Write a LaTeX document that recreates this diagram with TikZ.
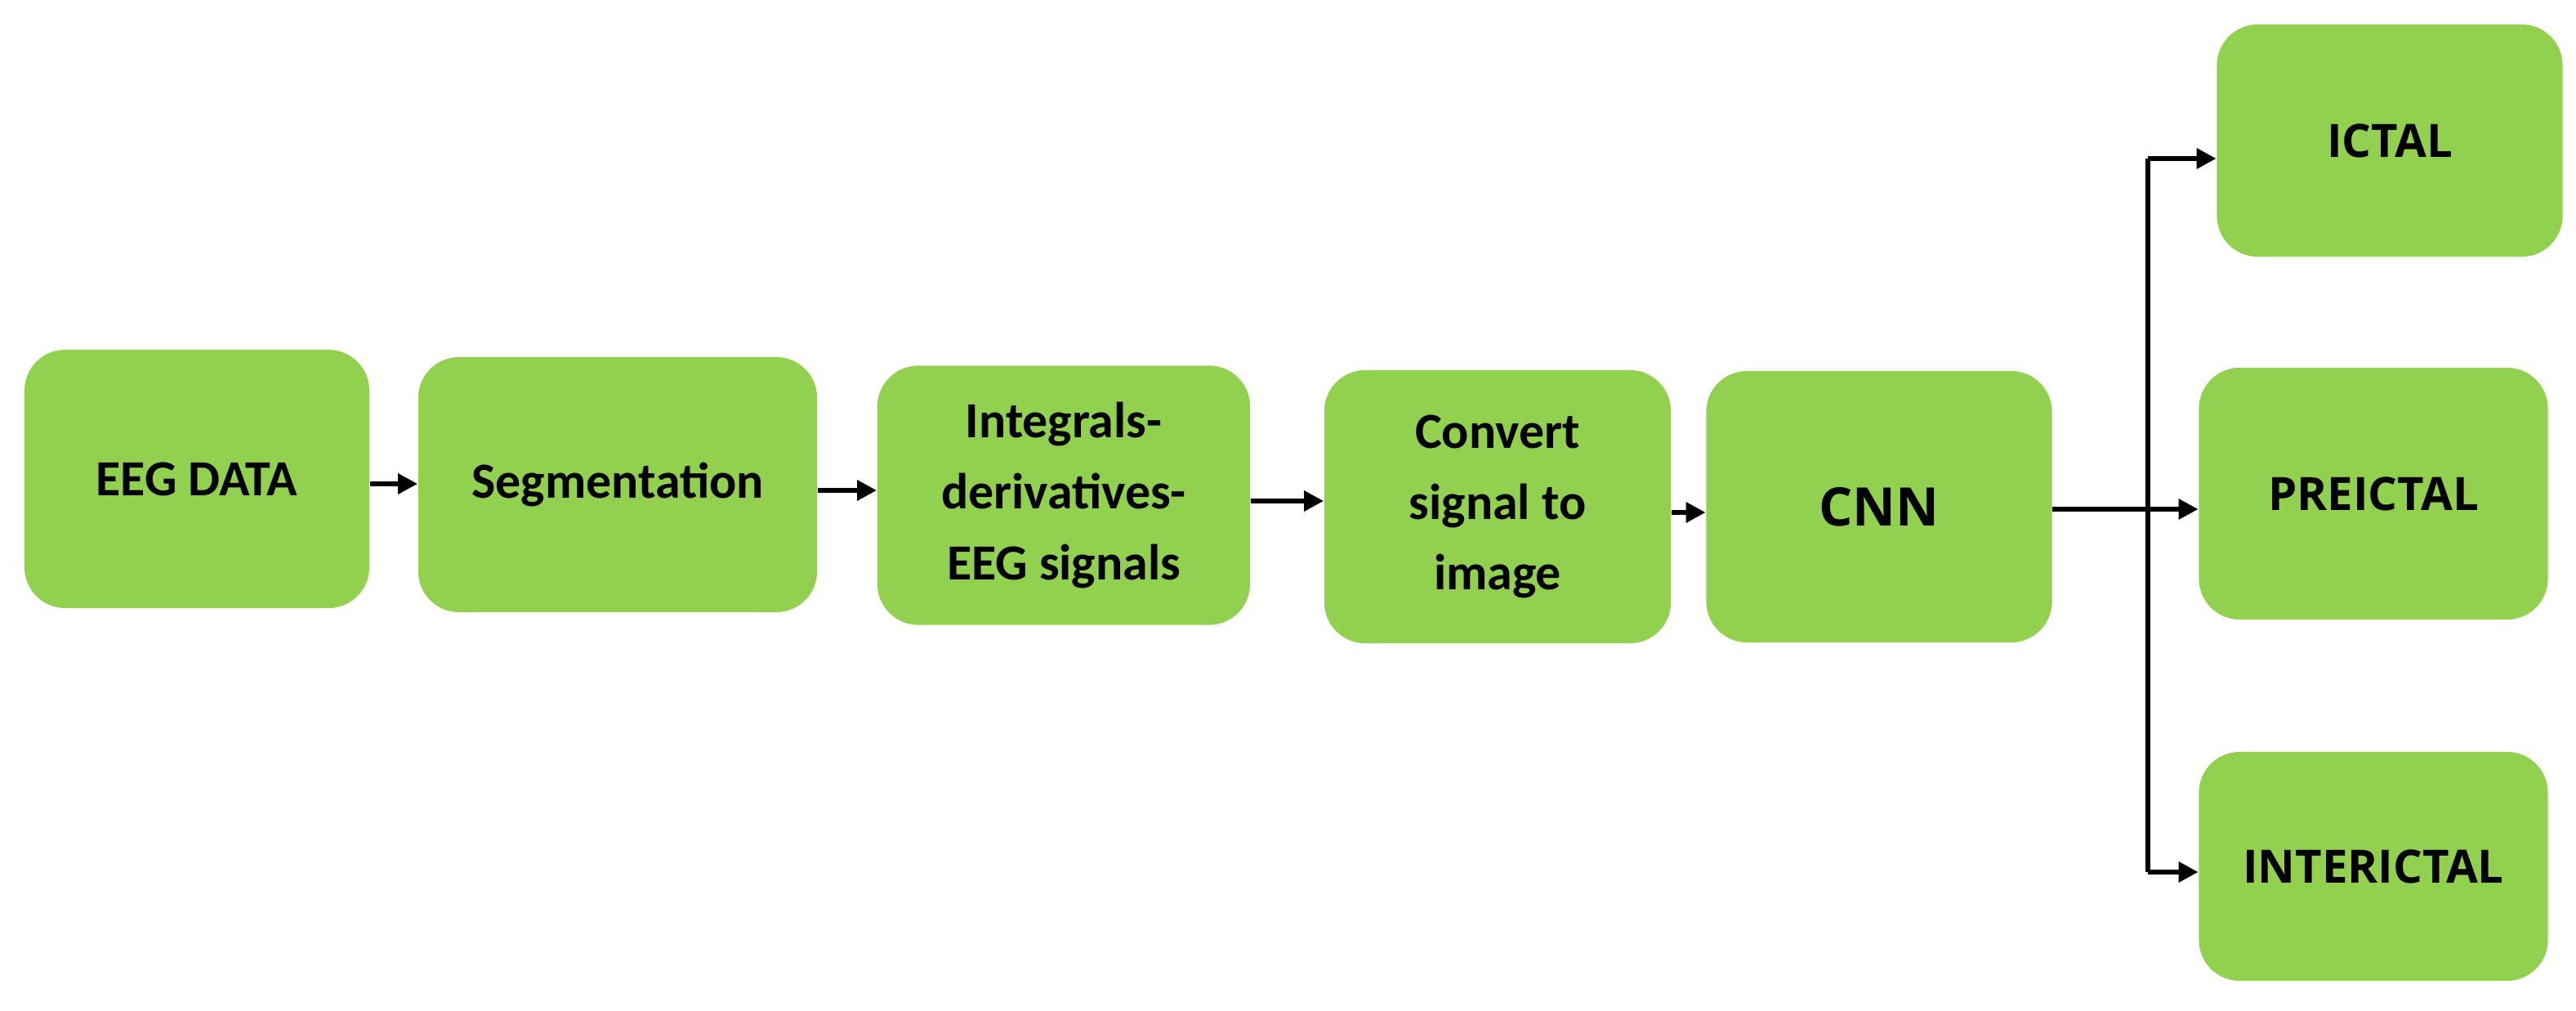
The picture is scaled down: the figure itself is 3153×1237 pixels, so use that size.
\documentclass[tikz,border=0pt]{standalone}
\usepackage{fontspec}
\setmainfont{Carlito}
\newfontfamily\osans{Open Sans}
\usetikzlibrary{arrows.meta}
\definecolor{boxgreen}{HTML}{92D050}
\begin{document}
\begin{tikzpicture}[x=0.01cm,y=-0.01cm,
  gbox/.style={fill=boxgreen, draw=none, rounded corners=0.5cm, inner sep=0pt, align=center,
    font=\fontsize{17.6}{24.7}\selectfont\bfseries},
  rbox/.style={gbox, font=\osans\fontsize{16}{20}\selectfont\bfseries},
  arr/.style={line width=1.7pt, -{Triangle[length=0.24cm,width=0.24cm]}},
  ln/.style={line width=1.7pt}]
\useasboundingbox (0,0) rectangle (3153,1237);
\fill[white] (0,0) rectangle (3153,1237);
\node[gbox, minimum width=4.22cm, minimum height=3.16cm] (eeg) at (241,586) {EEG DATA};
\node[gbox, minimum width=4.88cm, minimum height=3.12cm] (seg) at (756,593) {Segmentation};
\node[gbox, minimum width=4.56cm, minimum height=3.17cm] (int) at (1302,606) {Integrals-\\derivatives-\\EEG signals};
\node[gbox, minimum width=4.24cm, minimum height=3.34cm] (conv) at (1833,620) {Convert\\signal to\\image};
\node[rbox, minimum width=4.23cm, minimum height=3.32cm, font=\osans\fontsize{18.5}{22}\selectfont\bfseries] (cnn) at (2300,620) {CNN};
\node[rbox, minimum width=4.23cm, minimum height=2.84cm] (ict) at (2925,172) {ICTAL};
\node[rbox, minimum width=4.27cm, minimum height=3.08cm] (pre) at (2905,604) {PREICTAL};
\node[rbox, minimum width=4.27cm, minimum height=2.80cm] (inter) at (2905,1060) {INTERICTAL};
\coordinate (split) at (2629,623);
\draw[arr] (eeg.east |- 0,592) -- (seg.west |- 0,592);
\draw[arr] (seg.east |- 0,600) -- (int.west |- 0,600);
\draw[arr] (int.east |- 0,613) -- (conv.west |- 0,613);
\draw[arr] (conv.east |- 0,627) -- (cnn.west |- 0,627);
\draw[arr] (cnn.east |- 0,623) -- (pre.west |- 0,623);
\draw[ln] (split |- 0,1067) -- (split |- 0,194);
\draw[arr] (split |- 0,194) -- (ict.west |- 0,194);
\draw[arr] (split |- 0,1067) -- (inter.west |- 0,1067);
\end{tikzpicture}
\end{document}
